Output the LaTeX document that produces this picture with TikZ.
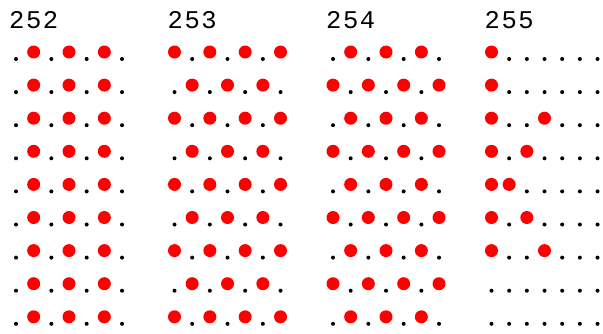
\documentclass[tikz,border=0pt]{standalone}
\usepackage{fontspec}
\newfontfamily\labelfont[LetterSpace=6]{Liberation Mono}
\usepackage{tikz}
\definecolor{dotRed}{HTML}{FF0000}

\begin{document}
\begin{tikzpicture}[x=1pt,y=-1pt,
  blackdot/.style={circle,fill=black,inner sep=0pt,minimum size=4pt},
  reddot/.style={circle,fill=dotRed,inner sep=0pt,minimum size=13pt,yshift=7pt},
  label/.style={font=\labelfont\fontsize{25.5}{26}\selectfont,anchor=base west,inner sep=0pt}
]
  \useasboundingbox (0,0) rectangle (603,333);

  % 252
  \node[label] (l252) at (9,28) {252};
  \foreach \bits [count=\r] in {{0,1,0,1,0,1,0},{0,1,0,1,0,1,0},{0,1,0,1,0,1,0},
      {0,1,0,1,0,1,0},{0,1,0,1,0,1,0},{0,1,0,1,0,1,0},{0,1,0,1,0,1,0},
      {0,1,0,1,0,1,0},{0,1,0,1,0,1,0}}
    \foreach \b [count=\k] in \bits {
      \ifnum\b=1 \node[reddot] (d252-\r-\k) at ({16+(\k-1)*17.67},{59+(\r-1)*33.1}) {};
      \else \node[blackdot] (d252-\r-\k) at ({16+(\k-1)*17.67},{59+(\r-1)*33.1}) {};
      \fi
    }

  % 253
  \node[label] (l253) at (167.5,28) {253};
  \foreach \bits [count=\r] in {{1,0,1,0,1,0,1},{0,1,0,1,0,1,0},{1,0,1,0,1,0,1},
      {0,1,0,1,0,1,0},{1,0,1,0,1,0,1},{0,1,0,1,0,1,0},{1,0,1,0,1,0,1},
      {0,1,0,1,0,1,0},{1,0,1,0,1,0,1}}
    \foreach \b [count=\k] in \bits {
      \ifnum\b=1 \node[reddot] (d253-\r-\k) at ({174.5+(\k-1)*17.67},{59+(\r-1)*33.1}) {};
      \else \node[blackdot] (d253-\r-\k) at ({174.5+(\k-1)*17.67},{59+(\r-1)*33.1}) {};
      \fi
    }

  % 254
  \node[label] (l254) at (326,28) {254};
  \foreach \bits [count=\r] in {{0,1,0,1,0,1,0},{1,0,1,0,1,0,1},{0,1,0,1,0,1,0},
      {1,0,1,0,1,0,1},{0,1,0,1,0,1,0},{1,0,1,0,1,0,1},{0,1,0,1,0,1,0},
      {1,0,1,0,1,0,1},{0,1,0,1,0,1,0}}
    \foreach \b [count=\k] in \bits {
      \ifnum\b=1 \node[reddot] (d254-\r-\k) at ({333+(\k-1)*17.67},{59+(\r-1)*33.1}) {};
      \else \node[blackdot] (d254-\r-\k) at ({333+(\k-1)*17.67},{59+(\r-1)*33.1}) {};
      \fi
    }

  % 255
  \node[label] (l255) at (484.5,28) {255};
  \foreach \bits [count=\r] in {{1,0,0,0,0,0,0},{1,0,0,0,0,0,0},{1,0,0,1,0,0,0},
      {1,0,1,0,0,0,0},{1,1,0,0,0,0,0},{1,0,1,0,0,0,0},{1,0,0,1,0,0,0},
      {0,0,0,0,0,0,0},{0,0,0,0,0,0,0}}
    \foreach \b [count=\k] in \bits {
      \ifnum\b=1 \node[reddot] (d255-\r-\k) at ({491.5+(\k-1)*17.67},{59+(\r-1)*33.1}) {};
      \else \node[blackdot] (d255-\r-\k) at ({491.5+(\k-1)*17.67},{59+(\r-1)*33.1}) {};
      \fi
    }
\end{tikzpicture}
\end{document}
